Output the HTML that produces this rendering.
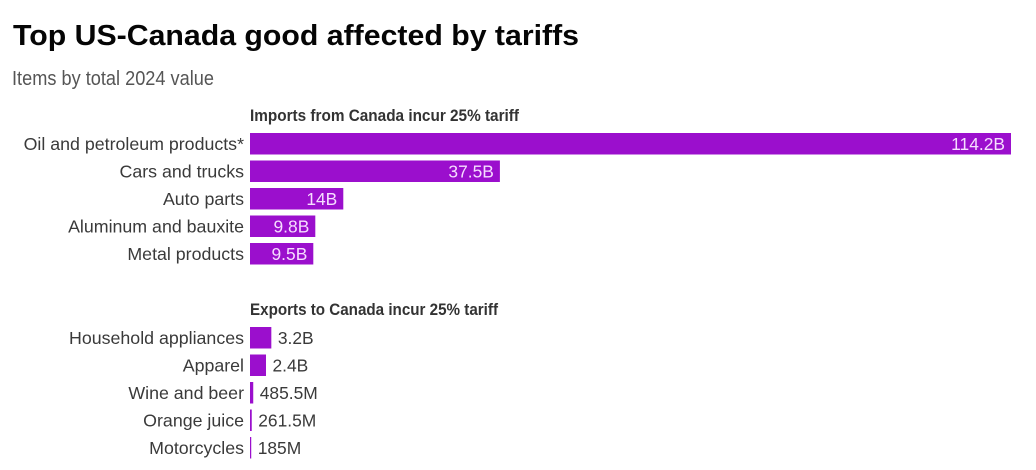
<!DOCTYPE html>
<html>
<head>
<meta charset="utf-8">
<style>
html,body{margin:0;padding:0;background:#fff;width:1036px;height:470px;overflow:hidden}
svg{display:block}
text{font-family:"Liberation Sans",sans-serif}
</style>
</head>
<body>
<svg id="chart" width="1036" height="470" viewBox="0 0 1036 470" xmlns="http://www.w3.org/2000/svg">
<text x="13" y="45" font-size="29" font-weight="700" fill="#050505" textLength="566" lengthAdjust="spacingAndGlyphs">Top US-Canada good affected by tariffs</text>
<text x="12" y="85" font-size="20" fill="#555" textLength="202" lengthAdjust="spacingAndGlyphs">Items by total 2024 value</text>
<text x="250" y="121" font-size="17" font-weight="700" fill="#333" textLength="269" lengthAdjust="spacingAndGlyphs">Imports from Canada incur 25% tariff</text>
<text x="250" y="315" font-size="17" font-weight="700" fill="#333" textLength="248" lengthAdjust="spacingAndGlyphs">Exports to Canada incur 25% tariff</text>
<g id="bars"></g>
</svg>
<script>
const importCategories = ["Oil and petroleum products*", "Cars and trucks", "Auto parts", "Aluminum and bauxite", "Metal products"];
const importValues = [114.2, 37.5, 14, 9.8, 9.5];
const importLabels = ["114.2B", "37.5B", "14B", "9.8B", "9.5B"];
const exportCategories = ["Household appliances", "Apparel", "Wine and beer", "Orange juice", "Motorcycles"];
const exportValues = [3.2, 2.4, 0.4855, 0.2615, 0.185];
const exportLabels = ["3.2B", "2.4B", "485.5M", "261.5M", "185M"];

const NS = "http://www.w3.org/2000/svg";
const group = document.getElementById("bars");
const x0 = 250;
const xMaxValue = 114.2;
const xMaxPixels = 761;
function xScale(v) { return v / xMaxValue * xMaxPixels; }
function yScale(top, i) { return top + i * 27.5; }
const barHeight = 21.5;
const insideMinWidth = 50;

function addText(content, x, y, anchor, fill, size) {
  const t = document.createElementNS(NS, "text");
  t.setAttribute("x", x);
  t.setAttribute("y", y);
  t.setAttribute("text-anchor", anchor);
  t.setAttribute("fill", fill);
  t.setAttribute("font-size", size);
  t.textContent = content;
  group.appendChild(t);
  return t;
}

function drawSection(top, categories, values, labels) {
  categories.forEach(function (name, i) {
    const y = yScale(top, i);
    const w = xScale(values[i]);
    const cat = addText(name, 244, y + 17, "end", "#3a3a3a", 17.8);
    
    
    const r = document.createElementNS(NS, "rect");
    r.setAttribute("x", x0);
    r.setAttribute("y", y);
    r.setAttribute("width", w);
    r.setAttribute("height", barHeight);
    r.setAttribute("fill", "#9b0fcd");
    
    
    group.appendChild(r);
    const inside = w >= insideMinWidth;
    const val = addText(labels[i], inside ? x0 + w - 6 : x0 + w + 6.5, y + 17, inside ? "end" : "start", inside ? "#f6ddff" : "#3a3a3a", 17.4);
    
    
  });
}

drawSection(133, importCategories, importValues, importLabels);
drawSection(327, exportCategories, exportValues, exportLabels);
</script>
</body>
</html>
